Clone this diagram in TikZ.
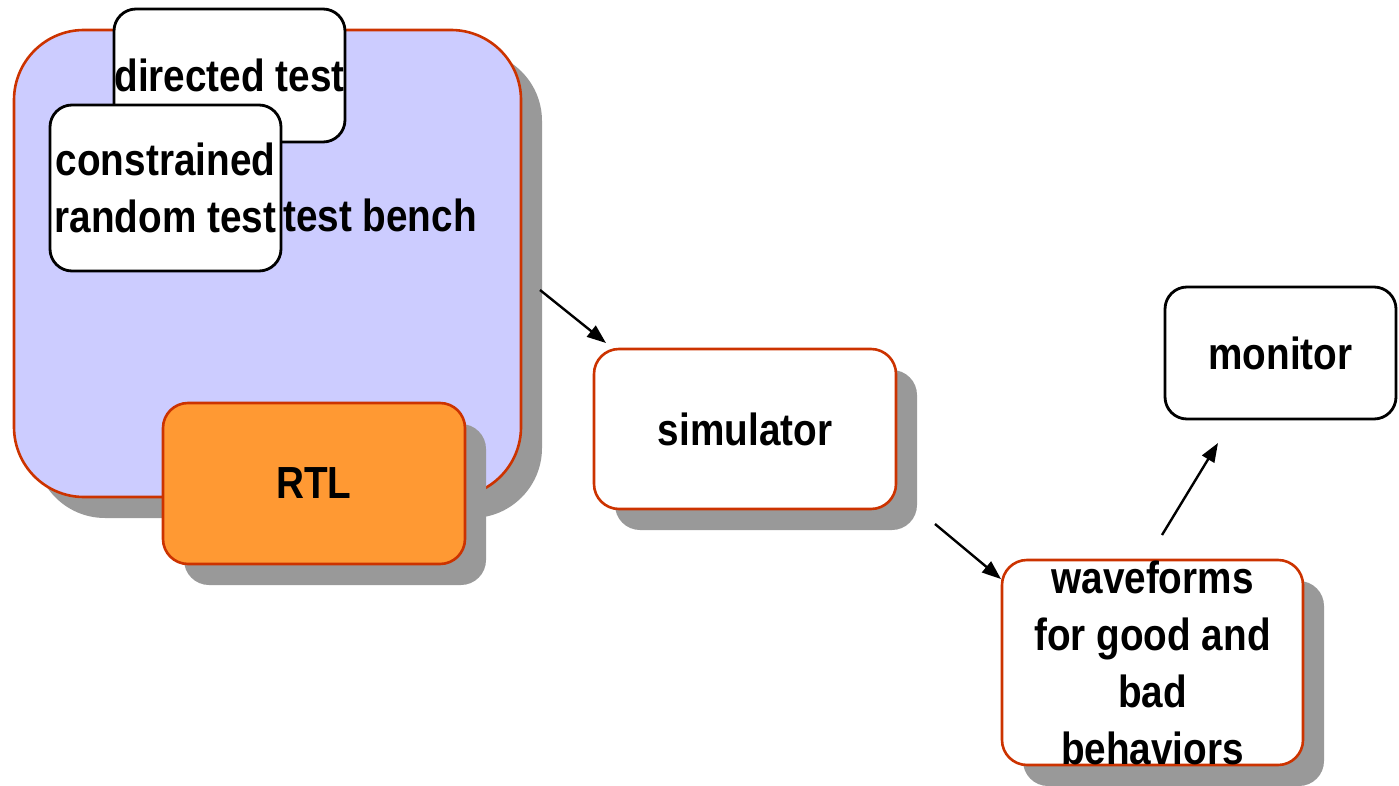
\documentclass[tikz,border=0pt]{standalone}
\usepackage{fontspec}
\setmainfont{Liberation Sans}[FakeStretch=0.86]
\usetikzlibrary{arrows.meta,shadows}
\definecolor{edgered}{HTML}{CC3300}
\definecolor{benchfill}{HTML}{CCCCFF}
\definecolor{rtlfill}{HTML}{FF9933}
\definecolor{shade}{HTML}{999999}
\tikzset{
  lbl/.style={font=\fontsize{45}{57}\selectfont\bfseries, align=center, inner sep=0pt},
  blk/.style={draw=edgered, line width=2.6pt, inner sep=0pt, rounded corners=25pt,
    font=\fontsize{45}{57}\selectfont\bfseries, align=center},
  shadowed/.style={drop shadow={shadow xshift=21pt, shadow yshift=-21pt, fill=shade, opacity=1}},
  plainbox/.style={draw=black, line width=2.8pt, fill=white, inner sep=0pt, rounded corners=22pt,
    font=\fontsize{45}{57}\selectfont\bfseries, align=center},
  flow/.style={line width=2.4pt, -{Triangle[length=19pt,width=14pt]}}
}
\begin{document}
\begin{tikzpicture}[x=1pt,y=-1pt]
\useasboundingbox (0,0) rectangle (1399,786);

% test bench container
\node[blk, shadowed, fill=benchfill, rounded corners=70pt,
      minimum width=507pt, minimum height=467pt] (tb) at (267.5,263.5) {};

% RTL block inside the bench
\node[blk, shadowed, fill=rtlfill, minimum width=302pt, minimum height=161pt] (rtl) at (314,483.5) {RTL};

% stimulus sources
\node[plainbox, minimum width=231pt, minimum height=133pt] (dt) at (229.5,75.5) {directed test};
\node[plainbox, minimum width=231pt, minimum height=166pt] (crt) at (165.5,188) {constrained\\random test};
\node[lbl, anchor=west] (tbl) at (283,215) {test bench};

% simulator and outputs
\node[blk, shadowed, fill=white, minimum width=302pt, minimum height=160pt] (sim) at (745,429) {simulator};
\node[blk, shadowed, fill=white, minimum width=301pt, minimum height=205pt] (wave) at (1152.5,662.5) {};
\node[lbl] (wavetxt) at (wave.center) {waveforms\\for good and\\bad\\behaviors};
\node[plainbox, minimum width=231pt, minimum height=132pt] (mon) at (1280.5,353) {monitor};

% connectors
\coordinate (a1s) at (540,290);
\coordinate (a1e) at (606,343);
\coordinate (a2s) at (935,524);
\coordinate (a2e) at (1001,579);
\coordinate (a3s) at (1162,535);
\coordinate (a3e) at (1218,443);
\draw[flow] (a1s) -- (a1e);
\draw[flow] (a2s) -- (a2e);
\draw[flow] (a3s) -- (a3e);
\end{tikzpicture}
\end{document}
